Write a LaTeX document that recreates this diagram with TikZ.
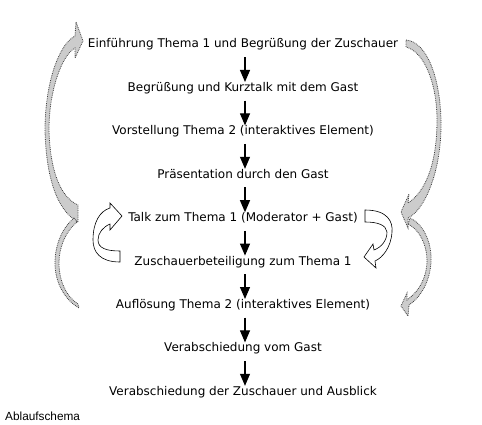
\documentclass[tikz,border=0pt]{standalone}
\usepackage{fontspec}
\setmainfont{DejaVu Sans}
\newfontfamily\capfont{Liberation Sans}
\usetikzlibrary{arrows.meta}
\begin{document}
\begin{tikzpicture}[x=1pt,y=-1pt,
  stepnode/.style={font=\fontsize{12}{14}\selectfont, inner sep=0pt, text height=8.7pt, text depth=2.7pt},
  flow/.style={line width=1.1pt, -{Triangle[width=10pt,length=12pt]}, shorten <=6.3pt, shorten >=0.5pt},
  grayarrow/.style={fill=gray!40, draw=gray!50!black, densely dotted, line width=0.8pt},
  whitearrow/.style={fill=white, draw=black, line width=0.6pt}]
\useasboundingbox (0,0) rectangle (482,425);
\node[stepnode] (s1) at (243,45) {Einführung Thema 1 und Begrüßung der Zuschauer};
\node[stepnode] (s2) at (243,88.4) {Begrüßung und Kurztalk mit dem Gast};
\node[stepnode] (s3) at (243,131.8) {Vorstellung Thema 2 (interaktives Element)};
\node[stepnode] (s4) at (243,175.2) {Präsentation durch den Gast};
\node[stepnode] (s5) at (243,218.6) {Talk zum Thema 1 (Moderator + Gast)};
\node[stepnode] (s6) at (243,262) {Zuschauerbeteiligung zum Thema 1};
\node[stepnode] (s7) at (243,305.4) {Auflösung Thema 2 (interaktives Element)};
\node[stepnode] (s8) at (243,348.8) {Verabschiedung vom Gast};
\node[stepnode] (s9) at (243,392.2) {Verabschiedung der Zuschauer und Ausblick};
\node[font=\capfont\fontsize{11.8}{14}\selectfont, anchor=west, inner sep=0pt] (cap) at (5,416) {Ablaufschema};
\foreach \a/\b in {s1/s2,s2/s3,s3/s4,s4/s5,s5/s6,s6/s7,s7/s8,s8/s9}
  \draw[flow] ([xshift=2pt]\a.south) -- ([xshift=2pt]\b.north);
% gray curved arrows
\draw[grayarrow] (78,222) .. controls (56,210) and (46,175) .. (45,130) .. controls (45,85) and (58,45) .. (75,36) -- (76,22) -- (83,41) -- (75,58) -- (75,48) .. controls (62,55) and (49,90) .. (49,130) .. controls (50,170) and (60,197) .. (78,205) -- cycle;
\draw[grayarrow] (74,218) .. controls (60,230) and (55,248) .. (55,263) .. controls (55,283) and (65,300) .. (79,308) -- (78,304) .. controls (67,297) and (59,282) .. (59,263) .. controls (59,248) and (65,232) .. (77,222) -- cycle;
\draw[grayarrow] (406,40) .. controls (428,42) and (440,80) .. (441,120) .. controls (442,170) and (425,210) .. (408,218) -- (408,228) -- (401,212) -- (409,194) -- (408,203) .. controls (425,192) and (437,165) .. (437,120) .. controls (437,85) and (425,52) .. (406,47) -- cycle;
\draw[grayarrow] (410,218) .. controls (425,225) and (432,245) .. (431,262) .. controls (430,282) and (420,298) .. (409,305) -- (408,316) -- (401,306) -- (407,293) -- (407,300) .. controls (418,292) and (426,280) .. (427,262) .. controls (427,245) and (420,230) .. (408,224) -- cycle;
% white curved arrows
\draw[whitearrow] (120,262) .. controls (100,262) and (93,252) .. (93,240) .. controls (93,222) and (100,211) .. (110,208) -- (110,203) -- (122,216) -- (110,230) -- (110,224) .. controls (103,227) and (98,233) .. (98,240) .. controls (98,248) and (106,251) .. (120,251) -- cycle;
\draw[whitearrow] (365,210) .. controls (388,210) and (393,222) .. (392,232) .. controls (391,248) and (382,258) .. (375,261) -- (376,268) -- (364,257) -- (373,244) -- (374,250) .. controls (382,247) and (387,240) .. (387,232) .. controls (386,225) and (378,222) .. (365,222) -- cycle;
\end{tikzpicture}
\end{document}
